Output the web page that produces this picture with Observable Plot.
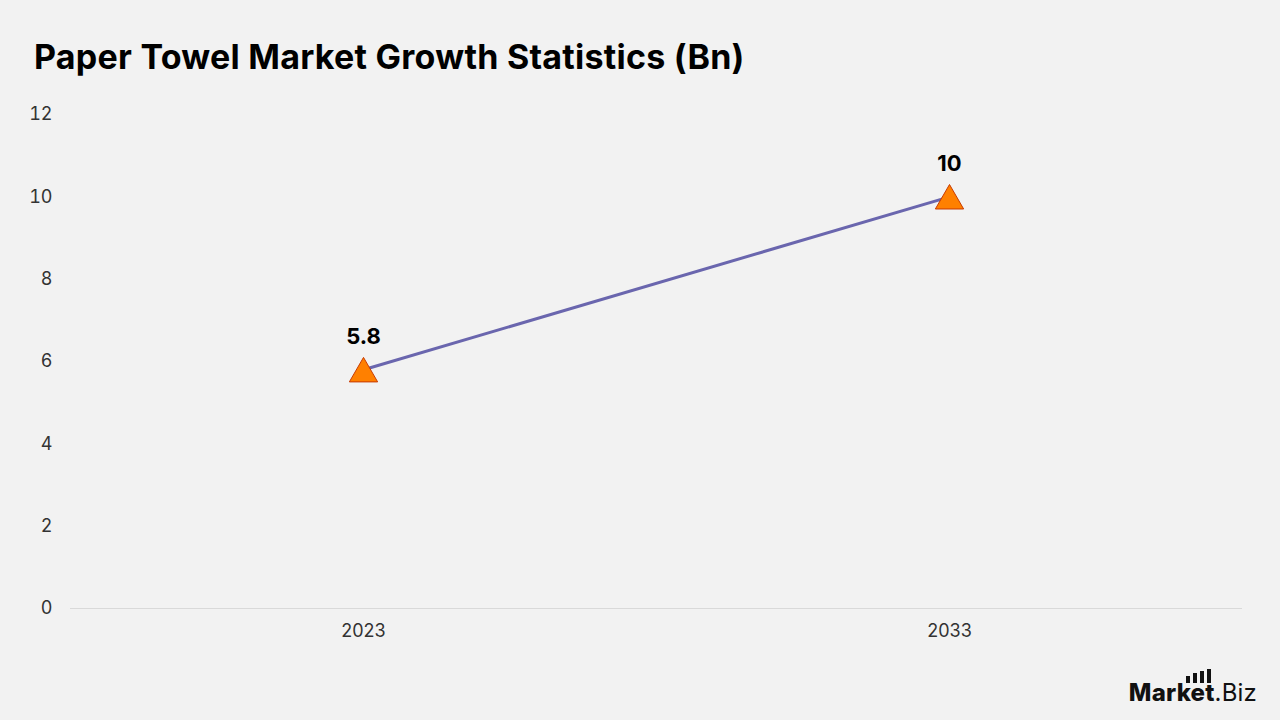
<!DOCTYPE html>
<html>
<head>
<meta charset="utf-8">
<script src="https://cdn.jsdelivr.net/npm/d3@7"></script>
<script src="https://cdn.jsdelivr.net/npm/@observablehq/plot@0.6"></script>
<style>
  html, body { margin: 0; padding: 0; background: #f2f2f2; }
  body { width: 1280px; height: 720px; position: relative; overflow: hidden; font-family: Inter, "Noto Sans", sans-serif; }
  #title { height: 100px; box-sizing: border-box; padding: 37px 0 0 34px; font-size: 34px; font-weight: 700; color: #000; line-height: 40px; letter-spacing: 0.25px; }
  #logo { position: absolute; right: 23px; bottom: 13px; font-size: 24px; color: #111; letter-spacing: 0.2px; }
  #logo b { font-weight: 800; }
  .bar { position: absolute; width: 4px; background: #111; }
</style>
</head>
<body>
<div id="title">Paper Towel Market Growth Statistics (Bn)</div>
<div id="chart"></div>
<div id="logo"><b>Market</b>.Biz</div>
<script>
const years = ["2023", "2033"];
const values = [5.8, 10];
const yTicks = [0, 2, 4, 6, 8, 10, 12];

const data = years.map((y, i) => ({ year: y, value: values[i] }));

const chart = Plot.plot({
  width: 1280,
  height: 620,
  marginTop: 14,
  marginBottom: 112,
  marginLeft: 70,
  marginRight: 38,
  style: { background: "#f2f2f2", fontFamily: "Inter, 'Noto Sans', sans-serif", fontSize: "18px", color: "#333" },
  x: { type: "point", domain: years, padding: 0.5, label: null },
  y: { domain: [0, 12], ticks: yTicks, label: null },
  marks: [
    Plot.ruleY([0], { stroke: "#d9d9d9", strokeWidth: 1 }),
    Plot.axisY({ ticks: yTicks, tickSize: 0, tickPadding: 18, fontSize: 18, fill: "#333", label: null }),
    Plot.axisX({ tickSize: 0, tickPadding: 16, fontSize: 18, fill: "#333", label: null }),
    Plot.line(data, { x: "year", y: "value", stroke: "#6a66ae", strokeWidth: 3 }),
    Plot.dot(data, { x: "year", y: "value", symbol: "triangle", r: 10.5, dy: 4, fill: "#ff8000", stroke: "#c83a00", strokeWidth: 1 }),
    Plot.text(data, { x: "year", y: "value", text: d => String(d.value), dy: -33, fontSize: 22, fontWeight: 700, fill: "#000" })
  ]
});
document.getElementById("chart").appendChild(chart);

// logo bars (decoration)
const heights = [7, 10, 12, 14];
heights.forEach((h, i) => {
  const b = document.createElement("div");
  b.className = "bar";
  b.style.height = h + "px";
  b.style.left = (1186 + i * 7) + "px";
  b.style.top = (683 - h) + "px";
  document.body.appendChild(b);
});
</script>
</body>
</html>
